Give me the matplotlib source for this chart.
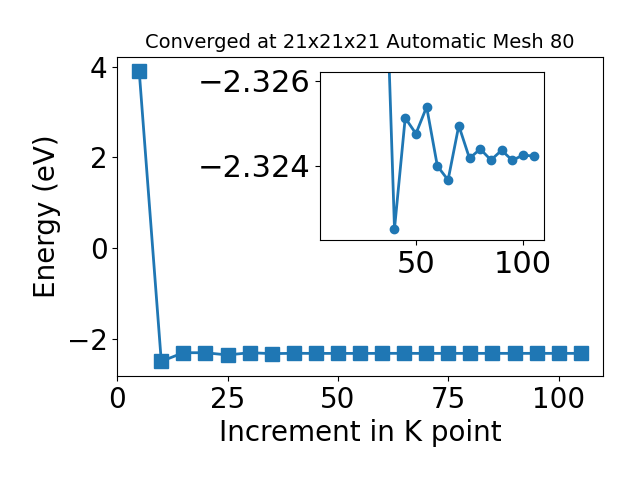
import matplotlib
matplotlib.use("Agg")
import matplotlib.pyplot as plt

# k-point increments and total energies (eV)
kpoints = [5, 10, 15, 20, 25, 30, 35, 40, 45, 50, 55,
           60, 65, 70, 75, 80, 85, 90, 95, 100, 105]
energy = [3.9, -2.50, -2.31, -2.31, -2.36, -2.31, -2.3302,
          -2.32251, -2.32512, -2.32475, -2.32538, -2.32399, -2.32366,
          -2.32494, -2.32417, -2.32439, -2.32413, -2.32436, -2.32412,
          -2.32425, -2.32422]

inset_xticks = [50, 100]
inset_yticks = [-2.326, -2.324]

fig = plt.figure(figsize=(6.4, 4.8), dpi=100)
ax = fig.add_axes([0.183, 0.217, 0.759, 0.665])
ax.plot(kpoints, energy, marker='s', markersize=10, linewidth=2, color='#1f77b4')
ax.set_xlabel('Increment in K point', fontsize=20)
ax.set_ylabel('Energy (eV)', fontsize=20)
ax.set_title('Converged at 21x21x21 Automatic Mesh 80', fontsize=14)
ax.set_xticks([0, 25, 50, 75, 100])
ax.set_yticks([-2, 0, 2, 4])
ax.tick_params(labelsize=20)

# zoomed view of the converged tail
ins = fig.add_axes([0.5, 0.5, 0.35, 0.35])
ins.plot(kpoints[6:], energy[6:], marker='o', linewidth=2, color='#1f77b4')
ins.set_xlim(5.25, 109.75)
ins.set_ylim(-2.32225, -2.3262)
ins.set_xticks(inset_xticks)
ins.set_yticks(inset_yticks)
ins.tick_params(labelsize=22)

fig.savefig('out.png')
